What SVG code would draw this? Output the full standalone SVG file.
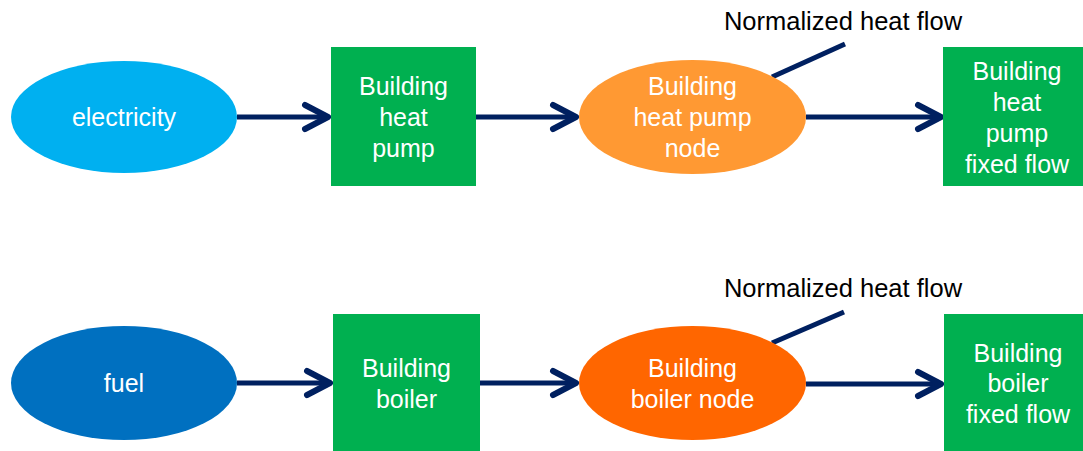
<svg xmlns="http://www.w3.org/2000/svg" width="1083" height="451" viewBox="0 0 1083 451">
  <style>
    .lbl { font-family: "Liberation Sans", Arial, sans-serif; font-size: 25px; fill: #ffffff; text-anchor: middle; }
    .note { font-family: "Liberation Sans", Arial, sans-serif; font-size: 25.5px; fill: #000000; text-anchor: middle; }
    .box { fill: #00B050; }
    .conn { stroke: #002060; stroke-width: 5; fill: none; }
  </style>
  <defs>
    <marker id="arr" viewBox="-30 -16 34 32" refX="0" refY="0" markerWidth="34" markerHeight="32" markerUnits="userSpaceOnUse" orient="auto">
      <path d="M-23,-12 L0,0 L-23,12" fill="none" stroke="#002060" stroke-width="6" stroke-linecap="round" stroke-linejoin="round"/>
    </marker>
  </defs>
  <rect width="1083" height="451" fill="#ffffff"/>

  <g id="connectors">
    <line class="conn" x1="237" y1="117" x2="328" y2="117" marker-end="url(#arr)"/>
    <line class="conn" x1="476" y1="117" x2="576" y2="117" marker-end="url(#arr)"/>
    <line class="conn" x1="806" y1="117" x2="941" y2="117" marker-end="url(#arr)"/>
    <line class="conn" x1="772" y1="77" x2="845" y2="44"/>
    <line class="conn" x1="237" y1="383" x2="330" y2="383" marker-end="url(#arr)"/>
    <line class="conn" x1="480" y1="383" x2="576" y2="383" marker-end="url(#arr)"/>
    <line class="conn" x1="806" y1="384" x2="941" y2="384" marker-end="url(#arr)"/>
    <line class="conn" x1="772" y1="343" x2="844" y2="312"/>
  </g>

  <g id="electricity">
    <ellipse cx="124" cy="117" rx="113" ry="56" fill="#00B0F0"/>
    <text class="lbl" x="124" y="126">electricity</text>
  </g>
  <g id="building-heat-pump">
    <rect class="box" x="331" y="47" width="145" height="139"/>
    <text class="lbl" x="403.5" y="95">Building</text>
    <text class="lbl" x="403.5" y="126">heat</text>
    <text class="lbl" x="403.5" y="157">pump</text>
  </g>
  <g id="building-heat-pump-node">
    <ellipse cx="692.5" cy="117" rx="113.5" ry="57" fill="#FF9933"/>
    <text class="lbl" x="692.5" y="95">Building</text>
    <text class="lbl" x="692.5" y="126">heat pump</text>
    <text class="lbl" x="692.5" y="157">node</text>
  </g>
  <g id="building-heat-pump-fixed-flow">
    <rect class="box" x="943" y="47" width="142" height="139"/>
    <text class="lbl" x="1017" y="80">Building</text>
    <text class="lbl" x="1017" y="111">heat</text>
    <text class="lbl" x="1017" y="142">pump</text>
    <text class="lbl" x="1017" y="173">fixed flow</text>
  </g>
  <g id="note-heat-pump">
    <text class="note" x="843" y="30">Normalized heat flow</text>
  </g>

  <g id="fuel">
    <ellipse cx="124" cy="383" rx="113" ry="57" fill="#0070C0"/>
    <text class="lbl" x="124" y="392">fuel</text>
  </g>
  <g id="building-boiler">
    <rect class="box" x="333" y="314" width="147" height="139"/>
    <text class="lbl" x="406.5" y="377">Building</text>
    <text class="lbl" x="406.5" y="408">boiler</text>
  </g>
  <g id="building-boiler-node">
    <ellipse cx="692.5" cy="383" rx="113.5" ry="57" fill="#FF6600"/>
    <text class="lbl" x="692.5" y="377">Building</text>
    <text class="lbl" x="692.5" y="408">boiler node</text>
  </g>
  <g id="building-boiler-fixed-flow">
    <rect class="box" x="944" y="314" width="141" height="139"/>
    <text class="lbl" x="1018" y="362">Building</text>
    <text class="lbl" x="1018" y="392">boiler</text>
    <text class="lbl" x="1018" y="423">fixed flow</text>
  </g>
  <g id="note-boiler">
    <text class="note" x="843" y="297">Normalized heat flow</text>
  </g>
</svg>
